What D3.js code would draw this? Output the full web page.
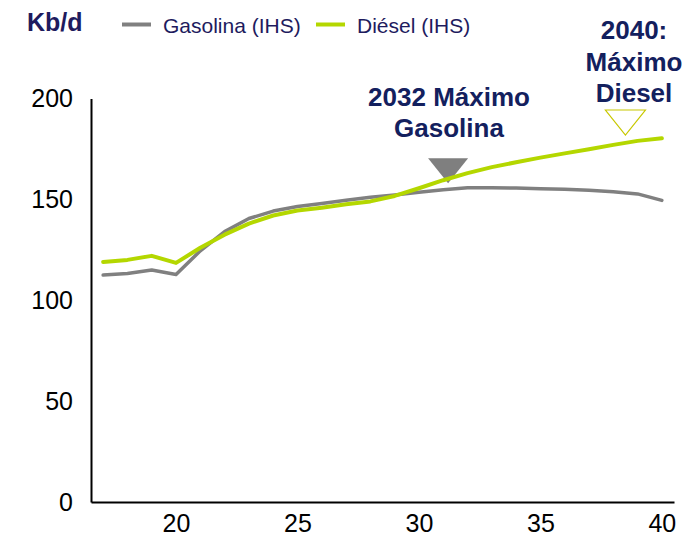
<!DOCTYPE html>
<html>
<head>
<meta charset="utf-8">
<script src="https://cdn.jsdelivr.net/npm/d3@7"></script>
<style>
body { margin: 0; background: #fff; }
svg { display: block; font-family: "Liberation Sans", Arial, sans-serif; }
</style>
</head>
<body>
<svg width="685" height="538"></svg>
<script>
var years = [17, 18, 19, 20, 21, 22, 23, 24, 25, 26, 27, 28, 29, 30, 31, 32, 33, 34, 35, 36, 37, 38, 39, 40];
var gasolina = [112.5, 113.3, 115, 112.8, 124.5, 134, 140.5, 144.2, 146.5, 148, 149.6, 151, 152.2, 153.5, 154.8, 155.8, 155.8, 155.6, 155.3, 155, 154.5, 153.8, 152.7, 149.5];
var diesel = [119, 120, 122, 118.5, 126, 132.5, 138, 142, 144.5, 145.8, 147.6, 149, 151.7, 155.5, 159.5, 163, 166, 168.4, 170.7, 172.8, 174.8, 177, 179, 180.3];
var xTicks = [20, 25, 30, 35, 40];
var yTicks = [0, 50, 100, 150, 200];
var seriesNames = ["Gasolina (IHS)", "Diésel (IHS)"];

var navy = "#1e1b5e";
var gray = "#808080";
var green = "#b4d700";

var svg = d3.select("svg");

var x = d3.scaleLinear().domain([16.5, 40.5]).range([91, 674]);
var y = d3.scaleLinear().domain([0, 200]).range([502, 98.5]);

// axes
var xAxis = svg.append("g")
	.attr("transform", "translate(0," + y(0) + ")")
	.call(d3.axisBottom(x).tickValues(xTicks).tickSize(0).tickSizeOuter(0).tickPadding(12));
var yAxis = svg.append("g")
	.attr("transform", "translate(" + x(16.5) + ",0)")
	.call(d3.axisLeft(y).tickValues(yTicks).tickSize(0).tickSizeOuter(0).tickPadding(18));

[xAxis, yAxis].forEach(function(a) {
	a.select(".domain").attr("stroke", "#000").attr("stroke-width", 2);
	a.selectAll("text")
		.attr("font-family", "Liberation Sans, Arial, sans-serif")
		.attr("font-size", 25)
		.attr("fill", "#000");
});

// lines
var line = function(vals) {
	return d3.line()
		.x(function(d, i) { return x(years[i]); })
		.y(function(d) { return y(d); })(vals);
};

// peak markers
var tri = function(cx, cy) {
	return "M" + (cx - 20) + "," + (cy - 25) + "L" + (cx + 20) + "," + (cy - 25) + "L" + cx + "," + cy + "Z";
};
svg.append("path")
	.attr("d", tri(x(31.2), y(158)))
	.attr("fill", "#7f7f7f");

svg.append("path")
	.attr("d", line(gasolina))
	.attr("fill", "none")
	.attr("stroke", gray)
	.attr("stroke-width", 3.5)
	.attr("stroke-linecap", "round")
	.attr("stroke-linejoin", "round");

svg.append("path")
	.attr("d", line(diesel))
	.attr("fill", "none")
	.attr("stroke", green)
	.attr("stroke-width", 4)
	.attr("stroke-linecap", "round")
	.attr("stroke-linejoin", "round");

svg.append("path")
	.attr("d", tri(x(38.5), y(181.9)))
	.attr("fill", "none")
	.attr("stroke", "#c8c800")
	.attr("stroke-width", 1.2);

// unit label
svg.append("text")
	.attr("x", 27).attr("y", 31)
	.attr("font-size", 25).attr("font-weight", "bold")
	.attr("fill", navy)
	.text("Kb/d");

// legend
var legend = [
	{ name: seriesNames[0], color: gray, x: 122 },
	{ name: seriesNames[1], color: green, x: 316 }
];
legend.forEach(function(l) {
	svg.append("line")
		.attr("x1", l.x).attr("x2", l.x + 29)
		.attr("y1", 24.5).attr("y2", 24.5)
		.attr("stroke", l.color).attr("stroke-width", 4);
	svg.append("text")
		.attr("x", l.x + 41).attr("y", 33)
		.attr("font-size", 21)
		.attr("fill", navy)
		.text(l.name);
});

// annotations
var note = function(cx, baselines, lines) {
	var t = svg.append("text")
		.attr("text-anchor", "middle")
		.attr("font-size", 26).attr("font-weight", "bold")
		.attr("fill", "#13205e");
	lines.forEach(function(s, i) {
		t.append("tspan").attr("x", cx).attr("y", baselines[i]).text(s);
	});
};
note(449, [106, 137], ["2032 Máximo", "Gasolina"]);
note(634, [39, 71, 102], ["2040:", "Máximo", "Diesel"]);
</script>
</body>
</html>
